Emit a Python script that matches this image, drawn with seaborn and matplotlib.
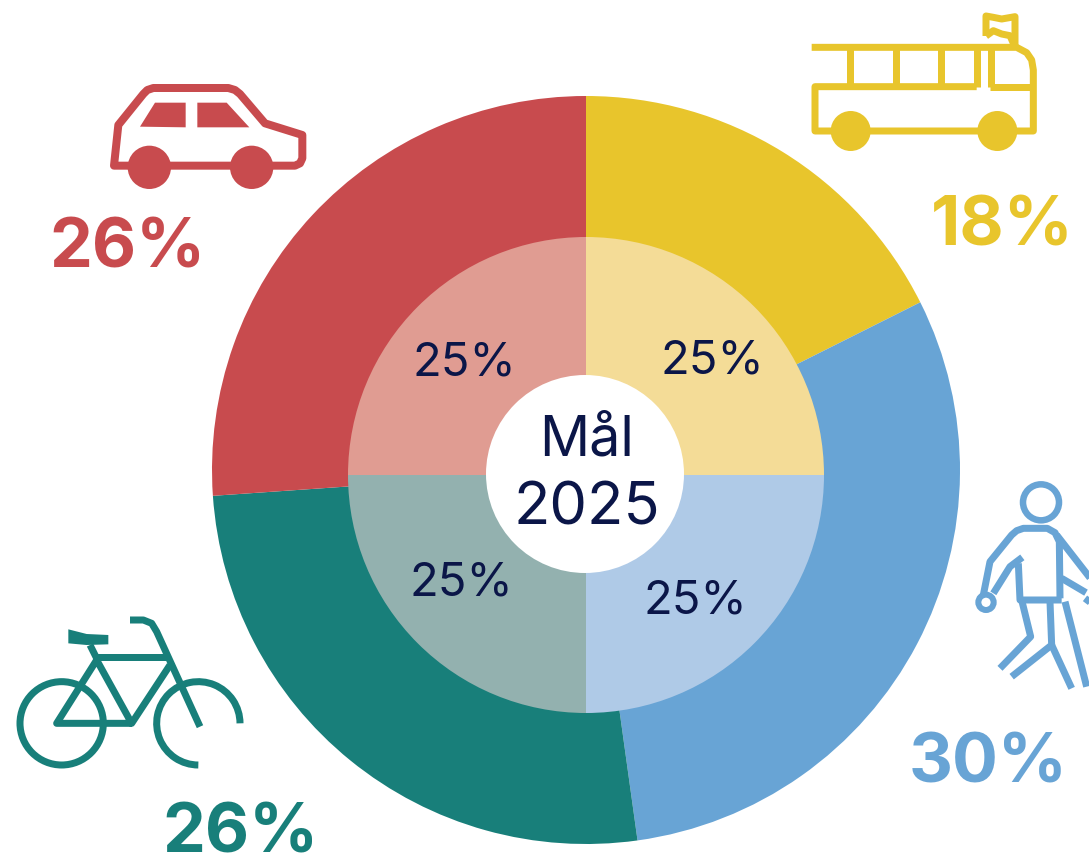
import matplotlib
matplotlib.use('Agg')
import matplotlib.pyplot as plt
import seaborn as sns
from matplotlib.patches import Arc, Circle, Ellipse, Polygon

# Данные (доли внешнего кольца считаны по углам секторов)
modes = ['Buss', 'Gång', 'Cykel', 'Bil']
shares = [17.6, 30.2, 26.1, 26.1]
goal = [25, 25, 25, 25]
share_labels = ['18%', '30%', '26%', '26%']
goal_labels = ['25%', '25%', '25%', '25%']
center_label = 'Mål\n2025'

outer_colors = sns.color_palette(['#E8C52C', '#68A4D5', '#187F7A', '#C84B4E'])
inner_colors = sns.color_palette(['#F4DC97', '#AFCAE7', '#93B1AF', '#E09C92'])
navy = '#0B1648'

sns.set_theme(style='white')
plt.rcParams['font.family'] = ['Inter', 'DejaVu Sans']

W, H = 1089, 855
fig = plt.figure(figsize=(W / 100, H / 100), dpi=100)
ax = fig.add_axes([0, 0, 1, 1])

# Кольца: внутреннее кольцо в оригинале чуть ниже внешнего
ax.pie(shares, colors=outer_colors, startangle=90, counterclock=False,
       center=(586, H - 470), radius=374, frame=True,
       wedgeprops=dict(linewidth=0))
ax.pie(goal, colors=inner_colors, startangle=90, counterclock=False,
       center=(586, H - 475), radius=238, frame=True,
       wedgeprops=dict(linewidth=0))
ax.add_patch(Circle((585, H - 474), 99, color='white', lw=0, zorder=2))
ax.set_xlim(0, W)
ax.set_ylim(0, H)
ax.set_aspect('equal')
ax.axis('off')


# Подписи
def put_text(x, y, s, color, size, weight='normal'):
    ax.text(x, H - y, s, color=color, fontsize=size, fontweight=weight,
            ha='center', va='center', zorder=4)


for (x, y), s in zip([(712, 362), (695, 601), (461, 584), (464, 364)], goal_labels):
    put_text(x, y, s, navy, 34)
for (x, y), s, c in zip([(1002, 228), (988, 764), (240, 834), (127, 249)], share_labels, outer_colors):
    put_text(x, y, s, c, 49, 'bold')
put_text(587, 441, center_label.split('\n')[0], navy, 40)
put_text(587, 509, center_label.split('\n')[1], navy, 43)


# Иконки: координаты из увеличенных фрагментов (масштаб 3x)
def icon(ox, oy):
    tx = lambda x: ox + x / 3
    ty = lambda y: H - (oy + y / 3)

    def line(pts, color, lw):
        ax.plot([tx(p[0]) for p in pts], [ty(p[1]) for p in pts], color=color,
                lw=lw * 0.72, solid_capstyle='butt', solid_joinstyle='round')

    def poly(pts, color, fill=True, lw=0):
        ax.add_patch(Polygon([(tx(p[0]), ty(p[1])) for p in pts], closed=True, fill=fill,
                             facecolor=color if fill else 'none', edgecolor=color, lw=lw * 0.72,
                             joinstyle='round'))

    def disc(x, y, r, color):
        ax.add_patch(Circle((tx(x), ty(y)), r / 3, color=color, lw=0, zorder=3))

    return tx, ty, line, poly, disc


# Машина
c = outer_colors[3]
tx, ty, line, poly, disc = icon(90, 70)
poly([(72, 287), (85, 165), (160, 72), (172, 60), (190, 54), (415, 54), (435, 60), (450, 72), (525, 160), (637, 195),
      (637, 265), (630, 280), (615, 287)], c, fill=False, lw=8)
poly([(150, 170), (195, 98), (287, 98), (287, 172)], c)
poly([(322, 98), (410, 98), (478, 172), (322, 172)], c)
disc(178, 292, 65, c)
disc(485, 292, 65, c)

# Автобус
c = outer_colors[0]
tx, ty, line, poly, disc = icon(800, 0)
line([(35, 142), (650, 142), (680, 158), (695, 180), (700, 210), (700, 393), (45, 393), (45, 260), (530, 260)], c, 7)
line([(570, 260), (700, 260)], c, 7)
for x in [150, 288, 422]:
    line([(x, 142), (x, 260)], c, 7)
line([(530, 142), (530, 260)], c, 7)
line([(572, 142), (572, 260)], c, 7)
disc(152, 393, 60, c)
disc(592, 393, 60, c)
line([(558, 108), (558, 48), (580, 52), (605, 57), (645, 50), (645, 140)], c, 7)
line([(558, 108), (580, 92), (605, 102), (630, 107), (640, 130)], c, 7)

# Пешеход
c = outer_colors[1]
tx, ty, line, poly, disc = icon(960, 470)
ax.add_patch(Ellipse((tx(243), ty(97)), 108 / 3, 108 / 3, fill=False, edgecolor=c, lw=6.5 * 0.72))
line([(70, 375), (90, 275), (155, 195), (170, 182), (190, 175), (262, 175), (285, 188), (298, 215), (300, 385)], c, 7)
line([(100, 370), (150, 290), (187, 262)], c, 7)
line([(175, 280), (180, 390), (305, 390)], c, 7)
line([(290, 195), (395, 330)], c, 7)
line([(305, 325), (378, 368)], c, 7)
line([(375, 385), (392, 398)], c, 7)
line([(185, 390), (212, 500), (120, 595)], c, 7)
line([(270, 395), (275, 525), (155, 620)], c, 7)
line([(275, 525), (335, 655)], c, 7)
line([(315, 395), (380, 650)], c, 7)
ax.add_patch(Ellipse((tx(78), ty(397)), 46 / 3, 46 / 3, fill=False, edgecolor=c, lw=6 * 0.72))

# Велосипед
c = outer_colors[2]
tx, ty, line, poly, disc = icon(0, 600)
ax.add_patch(Circle((tx(185), ty(370)), 125 / 3, fill=False, edgecolor=c, lw=7 * 0.72))
ax.add_patch(Arc((tx(595), ty(370)), 250 / 3, 250 / 3, theta1=0, theta2=270, color=c, lw=7 * 0.72))
line([(290, 170), (505, 170)], c, 7)
line([(395, 370), (170, 370), (290, 180), (395, 370), (510, 195)], c, 7)
line([(270, 135), (290, 175)], c, 7)
line([(600, 380), (470, 95), (455, 70), (430, 60), (390, 60)], c, 7)
poly([(205, 88), (260, 102), (325, 105), (325, 133), (260, 135), (205, 130)], c)

fig.savefig('out.png', dpi=100)
